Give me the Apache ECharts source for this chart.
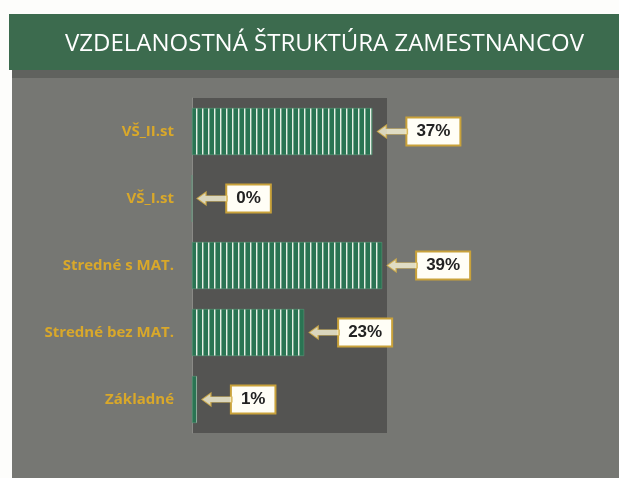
<!DOCTYPE html>
<html>
<head>
<meta charset="utf-8">
<script src="https://cdn.jsdelivr.net/npm/echarts@6/dist/echarts.min.js"></script>
<style>
  html, body { margin: 0; padding: 0; background: #fdfdfb; }
  #main { width: 619px; height: 478px; }
</style>
</head>
<body>
<div id="main"></div>
<script type="text/javascript">
    // data
    var categories = ['VŠ_II.st', 'VŠ_I.st', 'Stredné s MAT.', 'Stredné bez MAT.', 'Základné'];
    var values = [37, 0, 39, 23, 1];
    var titleText = 'VZDELANOSTNÁ ŠTRUKTÚRA ZAMESTNANCOV';

    // striped fill for the bars (green with thin white vertical lines)
    var stripe = document.createElement('canvas');
    stripe.width = 6;
    stripe.height = 10;
    var ctx = stripe.getContext('2d');
    ctx.fillStyle = '#2a7453';
    ctx.fillRect(0, 0, 6, 10);
    ctx.fillStyle = '#e8efe6';
    ctx.fillRect(4, 0, 1, 10);
    ctx.fillStyle = 'rgba(220,235,220,0.45)';
    ctx.fillRect(5, 0, 1, 10);

    var myChart = echarts.init(document.getElementById('main'));

    var option = {
        animation: false,
        backgroundColor: '#fdfdfb',
        graphic: [
            // grey panel
            { type: 'rect', z: -10, shape: { x: 12, y: 70, width: 607, height: 408 }, style: { fill: '#767773' } },
            { type: 'rect', z: -9, shape: { x: 12, y: 70, width: 607, height: 8 }, style: { fill: '#60625e' } },
            // green header
            { type: 'rect', z: -8, shape: { x: 9, y: 14, width: 610, height: 56 }, style: { fill: '#3c6b4e' } }
        ],
        title: {
            text: titleText,
            left: 60,
            top: 27,
            textStyle: {
                color: '#ffffff',
                fontFamily: 'Open Sans',
                fontWeight: 'normal',
                fontSize: 24
            }
        },
        grid: {
            left: 192,
            right: 232,
            top: 98,
            bottom: 45,
            show: true,
            backgroundColor: '#545452',
            borderWidth: 0
        },
        xAxis: {
            type: 'value',
            min: 0,
            max: 40,
            show: false
        },
        yAxis: {
            type: 'category',
            data: categories,
            inverse: true,
            axisLine: { show: true, lineStyle: { color: '#8a8a86', width: 1 } },
            axisTick: { show: false },
            axisLabel: {
                margin: 18,
                color: '#d9a82a',
                fontFamily: 'Open Sans',
                fontWeight: 'bold',
                fontSize: 15
            }
        },
        series: [{
            name: 'podiel',
            type: 'bar',
            data: values,
            barCategoryGap: '30%',
            itemStyle: {
                color: { image: stripe, repeat: 'repeat' },
                borderColor: '#5f9e7e',
                borderWidth: 0.5
            },
            label: {
                show: true,
                position: 'right',
                distance: 35,
                formatter: '{c}%',
                color: '#222222',
                fontFamily: 'Liberation Sans',
                fontWeight: 'bold',
                fontSize: 17,
                backgroundColor: '#fffef6',
                borderColor: '#c9a23a',
                borderWidth: 2,
                padding: [5, 9, 4, 9]
            },
            z: 2
        }, {
            name: 'sipka',
            type: 'scatter',
            data: values,
            symbol: 'path://M0,6 L9,0 L9,3.5 L30,3.5 L30,8.5 L9,8.5 L9,12 Z',
            symbolSize: [30, 13],
            symbolOffset: [20, 0],
            itemStyle: {
                color: '#fbf6d8',
                borderColor: '#d2ad45',
                borderWidth: 1
            },
            z: 3
        }]
    };

    myChart.setOption(option);
</script>
</body>
</html>
